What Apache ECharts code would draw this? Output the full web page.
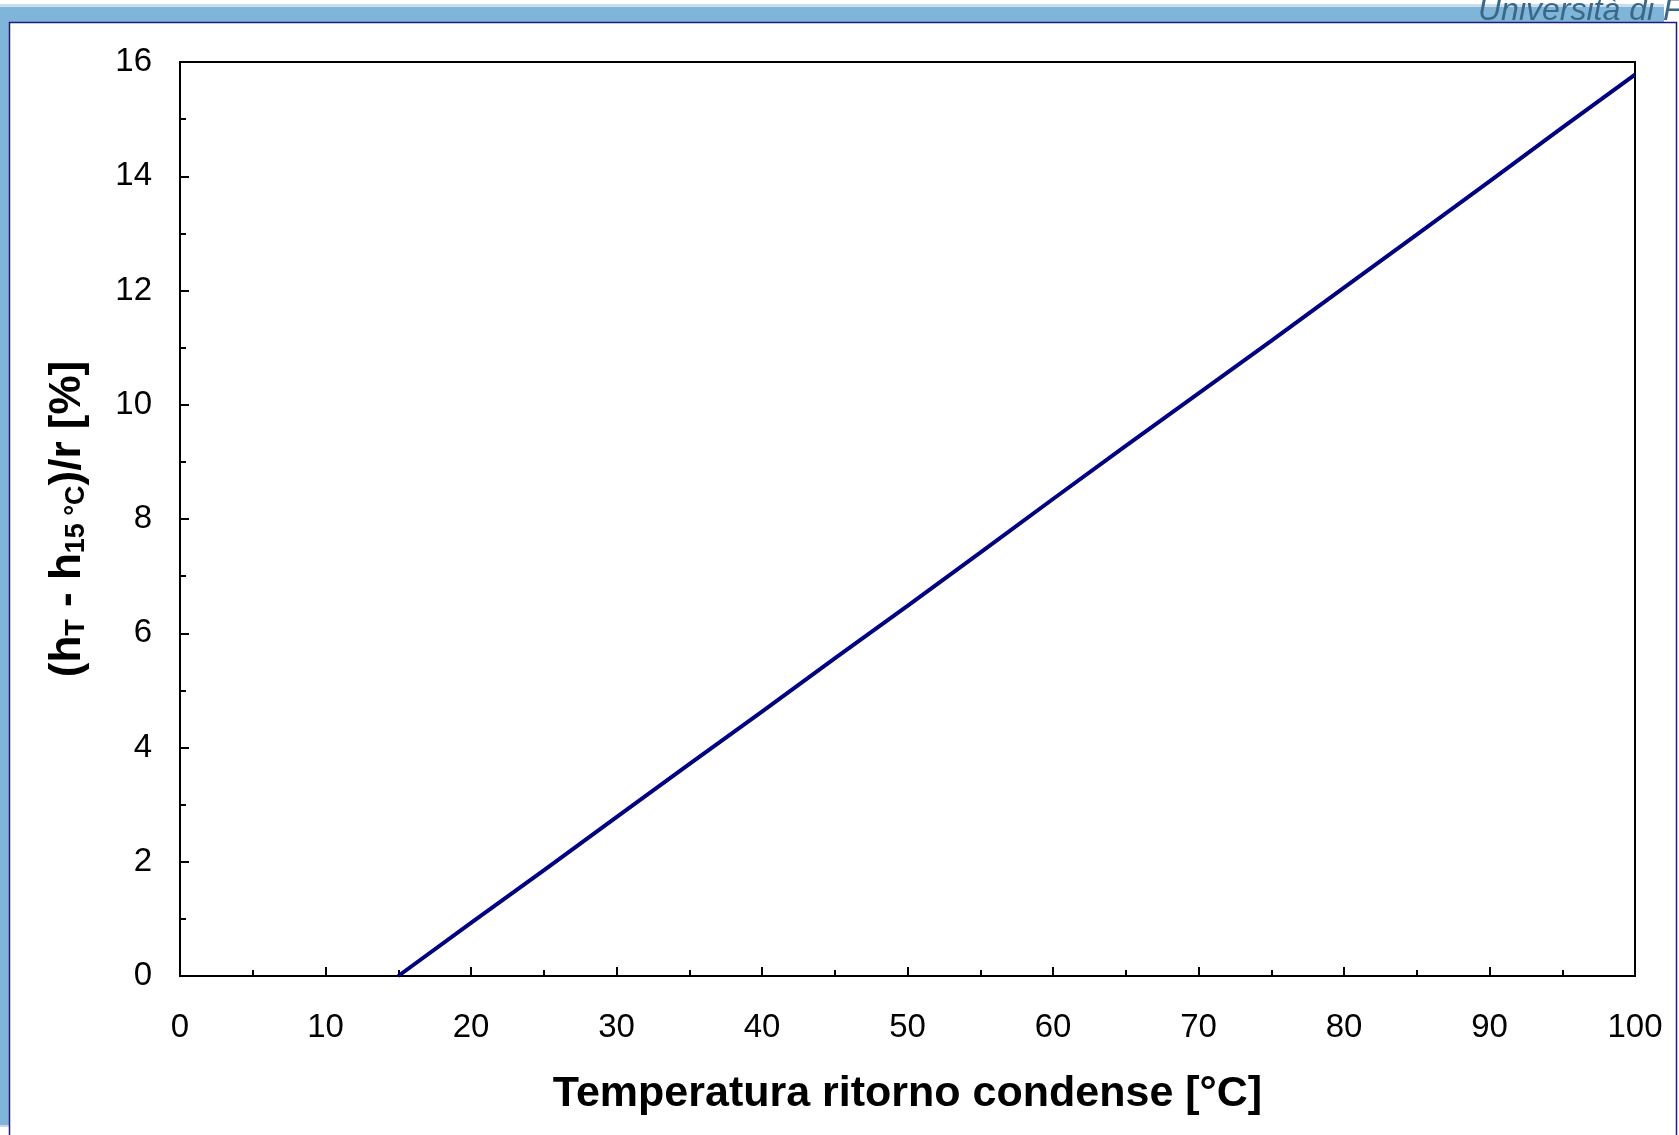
<!DOCTYPE html>
<html>
<head>
<meta charset="utf-8">
<title>Temperatura ritorno condense</title>
<script src="https://cdn.jsdelivr.net/npm/echarts@6/dist/echarts.min.js"></script>
<style>
  html, body { margin: 0; padding: 0; background: #fff; }
  #main { width: 1679px; height: 1135px; }
</style>
</head>
<body>
<div id="main"></div>
<script>
// return temperature of the condensate [°C]
var tempC = [15, 20, 25, 30, 35, 40, 45, 50, 55, 60, 65, 70, 75, 80, 85, 90, 95, 100];
// (hT - h15°C)/r [%]
var deltaPct = [0, 0.93, 1.85, 2.78, 3.71, 4.63, 5.56, 6.48, 7.41, 8.35, 9.28, 10.2, 11.12, 12.05, 12.98, 13.91, 14.85, 15.78];

(function () {
  var chart = echarts.init(document.getElementById('main'));
  var font = '"Liberation Sans", Arial, sans-serif';

  var points = tempC.map(function (t, i) { return [t, deltaPct[i]]; });

  var option = {
    backgroundColor: '#fff',
    animation: false,
    textStyle: { fontFamily: font },
    grid: {
      left: 180, right: 44, top: 62, bottom: 159,
      show: true,
      borderColor: '#000',
      borderWidth: 2
    },
    xAxis: {
      type: 'value',
      min: 0, max: 100, interval: 10,
      name: 'Temperatura ritorno condense [°C]',
      nameLocation: 'middle',
      nameGap: 97,
      nameTextStyle: { fontFamily: font, fontSize: 43, fontWeight: 'bold', color: '#000' },
      axisLine: { lineStyle: { color: '#000', width: 2 } },
      axisTick: { inside: true, length: 9, lineStyle: { color: '#000', width: 2 } },
      minorTick: { show: true, splitNumber: 2, length: 6, lineStyle: { color: '#000', width: 2 } },
      splitLine: { show: false },
      axisLabel: { fontFamily: font, fontSize: 33, color: '#000', margin: 35 }
    },
    yAxis: {
      type: 'value',
      min: 0, max: 16, interval: 2,
      name: '(h{sub|T} - h{sub|15 °C})/r [%]',
      nameLocation: 'middle',
      nameRotate: 90,
      nameGap: 90,
      nameTextStyle: {
        fontFamily: font, fontSize: 44, fontWeight: 'bold', color: '#000',
        rich: {
          sub: { fontFamily: font, fontSize: 27, fontWeight: 'bold', color: '#000', verticalAlign: 'bottom' }
        }
      },
      axisLine: { lineStyle: { color: '#000', width: 2 } },
      axisTick: { inside: true, length: 9, lineStyle: { color: '#000', width: 2 } },
      minorTick: { show: true, splitNumber: 2, length: 6, lineStyle: { color: '#000', width: 2 } },
      splitLine: { show: false },
      axisLabel: { fontFamily: font, fontSize: 33, color: '#000', margin: 28 }
    },
    series: [{
      type: 'line',
      data: points,
      showSymbol: false,
      lineStyle: { color: '#000080', width: 4 }
    }],
    // slide frame
    graphic: [
      { type: 'rect', shape: { x: 0, y: 4, width: 1664, height: 3 }, style: { fill: '#c9dded' }, silent: true },
      { type: 'rect', shape: { x: 0, y: 7, width: 1664, height: 15 }, style: { fill: '#7eb5d8' }, silent: true },
      { type: 'rect', shape: { x: 0, y: 22, width: 9, height: 1103 }, style: { fill: '#7eb5d8' }, silent: true },
      { type: 'rect', shape: { x: 0, y: 1125, width: 9, height: 2 }, style: { fill: '#c9d6e0' }, silent: true },
      {
        type: 'rect',
        shape: { x: 9.5, y: 22.5, width: 1667, height: 1120 },
        style: { fill: 'none', stroke: '#1c1c7c', lineWidth: 1.5 },
        silent: true
      },
      {
        type: 'text', x: 1478, y: 27, silent: true,
        style: {
          text: 'Università di Firenze',
          font: 'italic 32px ' + font,
          fill: '#3b6887',
          textVerticalAlign: 'bottom'
        }
      }
    ]
  };

  chart.setOption(option);
})();
</script>
</body>
</html>
